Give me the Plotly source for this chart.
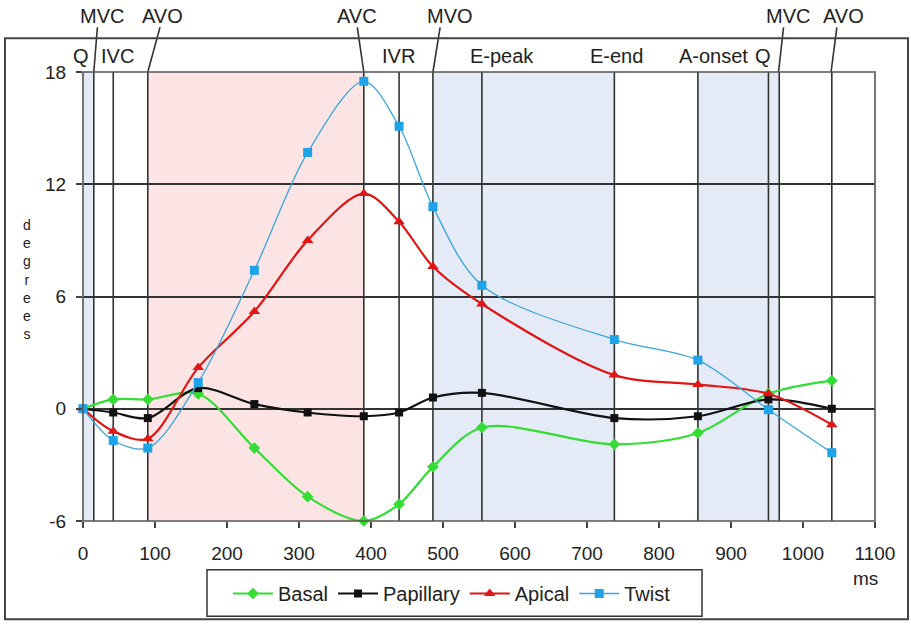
import plotly.graph_objects as go

# Sample times (ms) shared by all four rotation curves
t_ms = [0, 42, 90, 160, 238, 312, 390, 439, 486, 554, 738, 854, 952, 1040]

# Rotation (degrees) per level, plus the resulting twist
basal = [0, 0.5, 0.5, 0.8, -2.1, -4.7, -6.0, -5.1, -3.1, -1.0, -1.9, -1.3, 0.8, 1.5]
papillary = [0, -0.2, -0.5, 1.1, 0.25, -0.2, -0.4, -0.2, 0.6, 0.85, -0.5, -0.4, 0.5, 0.0]
apical = [0, -1.2, -1.6, 2.2, 5.2, 9.0, 11.5, 10.0, 7.6, 5.6, 1.8, 1.3, 0.8, -0.85]
twist = [0, -1.7, -2.1, 1.4, 7.4, 13.7, 17.5, 15.1, 10.8, 6.6, 3.7, 2.6, -0.05, -2.35]

# Axis ticks
x_ticks = list(range(0, 1101, 100))
y_ticks = [-6, 0, 6, 12, 18]
y_tick_text = ["-6", "0", "6", "12", "18"]

# Cardiac-cycle event times (ms)
event_ms = [15, 42, 90, 390, 439, 486, 554, 738, 854, 952, 967, 1040]

# Shaded phases (start, end, colour)
phases = [
    (0, 15, "#e4ebf6"),
    (90, 390, "#fce4e4"),
    (486, 738, "#e4ebf6"),
    (854, 952, "#e4ebf6"),
    (952, 967, "#e4ebf6"),
]

# Labels in the band above the plot area: (text, x px)
inner_labels = [("Q", 81), ("IVC", 117), ("IVR", 398), ("E-peak", 502),
                ("E-end", 616), ("A-onset", 713), ("Q", 763)]
# Labels above the frame with pointer lines: (text, x px, pointer top ms, event ms)
outer_labels = [("MVC", 102, 20, 15), ("AVO", 162, 107, 90), ("AVC", 357, 381, 390),
                ("MVO", 450, 496, 486), ("MVC", 788, 973, 966), ("AVO", 843, 1047, 1039)]

W, H = 911, 625
L, R, T, B = 83, 875, 72, 524
X_MAX = 1100


def fx(px):
    return (px - L) / (R - L)


def fy(py):
    return (B - py) / (B - T)


FONT = "Liberation Sans, Arial, sans-serif"
TXT = "#222222"

fig = go.Figure()

series = [
    ("Basal", basal, "#33dd33", "diamond", 9, 2.2),
    ("Papillary", papillary, "#111111", "square", 8, 2.2),
    ("Apical", apical, "#e01515", "triangle-up", 10, 2.2),
    ("Twist", twist, "#3aa6dc", "square", 9, 1.3),
]
for name, vals, col, sym, msz, lw in series:
    fig.add_trace(go.Scatter(
        x=t_ms, y=vals, name=name, mode="lines+markers",
        line=dict(color=col, width=lw, shape="spline", smoothing=0.9),
        marker=dict(symbol=sym, size=msz, color="#1fa3e8" if name == "Twist" else col),
        cliponaxis=False,
    ))

shapes = []
for a, b, c in phases:
    shapes.append(dict(type="rect", xref="x", yref="y", x0=a, x1=b, y0=-6, y1=18,
                       fillcolor=c, line=dict(width=0), layer="below"))
for e in event_ms:
    shapes.append(dict(type="line", xref="x", yref="y", x0=e, x1=e, y0=-6, y1=18,
                       line=dict(color="#333333", width=1.6), layer="below"))
# pointer lines from the upper labels down to their event lines
for _, _, top_ms, ev_ms in outer_labels:
    shapes.append(dict(type="line", xref="paper", yref="paper",
                       x0=top_ms / X_MAX, y0=fy(27), x1=ev_ms / X_MAX, y1=1,
                       line=dict(color="#333333", width=1.6)))
# plot-area border
shapes.append(dict(type="rect", xref="paper", yref="paper", x0=0, x1=1, y0=0, y1=1,
                   line=dict(color="#555555", width=1.6)))
# outer frame
shapes.append(dict(type="rect", xref="paper", yref="paper",
                   x0=fx(5), x1=fx(908), y0=fy(623), y1=fy(38),
                   line=dict(color="#444444", width=2)))
# legend box
shapes.append(dict(type="rect", xref="paper", yref="paper",
                   x0=fx(207), x1=fx(702), y0=fy(620), y1=fy(573),
                   line=dict(color="#333333", width=1.5)))

annotations = []
for txt, px in inner_labels:
    annotations.append(dict(text=txt, x=fx(px), y=fy(56), xref="paper", yref="paper",
                            showarrow=False, xanchor="center", yanchor="middle",
                            font=dict(size=20, color=TXT, family=FONT)))
for txt, px, _, _ in outer_labels:
    annotations.append(dict(text=txt, x=fx(px), y=fy(16), xref="paper", yref="paper",
                            showarrow=False, xanchor="center", yanchor="middle",
                            font=dict(size=20, color=TXT, family=FONT)))
annotations.append(dict(text="ms", x=fx(865), y=fy(582), xref="paper", yref="paper",
                        showarrow=False, xanchor="center", yanchor="middle",
                        font=dict(size=19, color=TXT, family=FONT)))
# vertical stacked axis title
annotations.append(dict(text="<br>".join("degrees"), x=fx(27), y=fy(281),
                        xref="paper", yref="paper", showarrow=False,
                        xanchor="center", yanchor="middle", align="center",
                        font=dict(size=14, color=TXT, family=FONT)))

fig.update_layout(
    width=W, height=H,
    margin=dict(l=L, r=W - R, t=T, b=H - B),
    paper_bgcolor="white", plot_bgcolor="white",
    font=dict(family=FONT, size=19, color=TXT),
    showlegend=True,
    legend=dict(orientation="h", x=fx(452), xanchor="center", y=fy(597), yanchor="middle",
                bgcolor="rgba(0,0,0,0)", font=dict(size=20, color=TXT, family=FONT),
                itemwidth=40),
    shapes=shapes,
    annotations=annotations,
    xaxis=dict(range=[0, X_MAX], tickmode="array", tickvals=x_ticks,
               showgrid=False, zeroline=False, showline=False,
               ticks="outside", ticklen=6, tickcolor="#444444", tickwidth=1.5,
               ticklabelstandoff=9, tickfont=dict(size=19, color=TXT, family=FONT)),
    yaxis=dict(range=[-6, 18], tickmode="array", tickvals=y_ticks, ticktext=y_tick_text,
               showgrid=True, gridcolor="#333333", gridwidth=1.6,
               zeroline=False, showline=False,
               ticks="outside", ticklen=6, tickcolor="#444444", tickwidth=1.5,
               ticklabelstandoff=6, tickfont=dict(size=19, color=TXT, family=FONT)),
)

fig.write_html("out.html")
